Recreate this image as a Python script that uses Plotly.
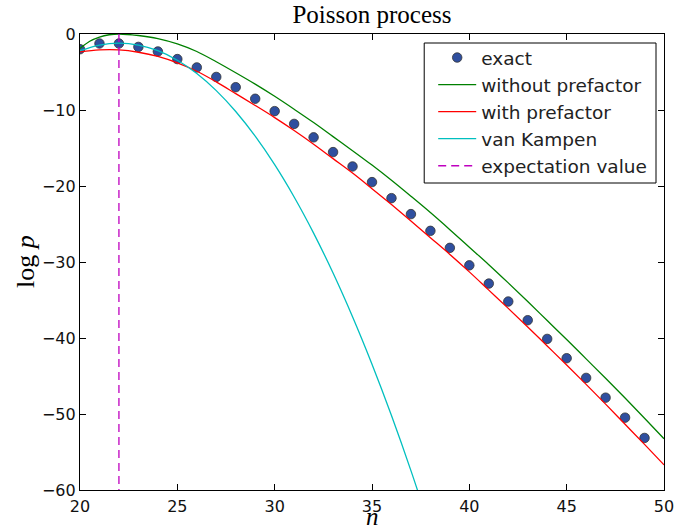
import plotly.graph_objects as go

# ---- data ----
n_exact = list(range(20, 50))
logp_exact = [-2.0, -1.25, -1.25, -1.7, -2.3, -3.3, -4.4, -5.65, -7.0, -8.52,
              -10.15, -11.83, -13.6, -15.54, -17.43, -19.49, -21.6, -23.7, -25.9, -28.14,
              -30.44, -32.84, -35.2, -37.66, -40.12, -42.66, -45.25, -47.85, -50.48, -53.15]

n_without = [20, 20.5, 21, 21.5, 22] + list(range(23, 51))
logp_without = [-1.9, -0.95, -0.4, -0.1, 0.0,
                -0.2, -0.6, -1.3, -2.3, -3.65, -5.1, -6.6, -8.2, -9.9, -11.65,
                -13.5, -15.35, -17.25, -19.25, -21.35, -23.5, -25.75, -28.05, -30.35, -32.75,
                -35.2, -37.7, -40.2, -42.75, -45.3, -47.9, -50.55, -53.25]

n_with = list(range(20, 51))
logp_with = [-2.35, -2.1, -2.1, -2.4, -2.95, -3.8, -4.9, -6.3, -7.85, -9.4,
             -11.0, -12.7, -14.5, -16.4, -18.3, -20.35, -22.45, -24.6, -26.8, -29.0,
             -31.3, -33.7, -36.1, -38.55, -41.05, -43.55, -46.1, -48.7, -51.35, -54.0, -56.7]

n_vk = list(range(20, 39))
logp_vk = [-2.2, -1.45, -1.2, -1.45, -2.2, -3.45, -5.2, -7.45, -10.2, -13.45,
           -17.2, -21.45, -26.2, -31.45, -37.2, -43.45, -50.2, -57.45, -65.2]

expectation_n = [22, 22]
expectation_y = [0, -60]

x_ticks = [20, 25, 30, 35, 40, 45, 50]
y_ticks = [0, -10, -20, -30, -40, -50, -60]

SANS = "DejaVu Sans"
SERIF = "Liberation Serif"

fig = go.Figure()

fig.add_trace(go.Scatter(
    x=n_exact, y=logp_exact, mode="markers", name="exact",
    legendgroup="a",
    marker=dict(size=9.5, color="#2f4f9f", line=dict(color="#333333", width=0.8)),
))
fig.add_trace(go.Scatter(
    x=n_without, y=logp_without, mode="lines", name="without prefactor",
    legendgroup="b",
    line=dict(color="#008000", width=1.3, shape="spline"),
))
fig.add_trace(go.Scatter(
    x=n_with, y=logp_with, mode="lines", name="with prefactor",
    legendgroup="c",
    line=dict(color="#ff0000", width=1.3, shape="spline"),
))
fig.add_trace(go.Scatter(
    x=n_vk, y=logp_vk, mode="lines", name="van Kampen",
    legendgroup="d",
    line=dict(color="#00bfbf", width=1.3, shape="spline"),
))
fig.add_trace(go.Scatter(
    x=expectation_n, y=expectation_y, mode="lines", name="expectation value",
    legendgroup="e",
    line=dict(color="#bf00bf", width=1.3, dash="8px,5px"),
))

axis_common = dict(
    showline=True, linecolor="black", linewidth=1.2, mirror="ticks",
    ticks="inside", ticklen=6, tickwidth=1, tickcolor="black",
    showgrid=False, zeroline=False, automargin=False,
    tickfont=dict(family=SANS, size=16, color="#111111"),
)

# legend frame (paper coordinates)
PLOT_L, PLOT_W, PLOT_B, PLOT_H = 79.5, 584.5, 490, 456
frame = dict(type="rect", xref="paper", yref="paper", layer="above",
             x0=(424 - PLOT_L) / PLOT_W, x1=(656 - PLOT_L) / PLOT_W,
             y0=(PLOT_B - 183) / PLOT_H, y1=(PLOT_B - 43) / PLOT_H,
             fillcolor="white", line=dict(color="black", width=1))

fig.update_layout(
    width=678, height=530,
    margin=dict(l=80, r=14, t=34, b=40),
    paper_bgcolor="white", plot_bgcolor="white",
    title=dict(text="Poisson process", x=0.5, xref="paper", xanchor="center",
               y=1, yref="container", yanchor="top", pad=dict(t=5),
               font=dict(family=SERIF, size=25, color="black")),
    xaxis=dict(range=[20, 50], tickvals=x_ticks, ticklabelstandoff=2, **axis_common),
    yaxis=dict(range=[-60, 0], tickvals=y_ticks, **axis_common),
    legend=dict(x=(433 - PLOT_L) / PLOT_W, xanchor="left",
                y=(PLOT_B - 39) / PLOT_H, yanchor="top",
                bgcolor="rgba(0,0,0,0)", borderwidth=0,
                font=dict(family=SANS, size=18.5, color="#222222"),
                traceorder="grouped", tracegroupgap=0, itemwidth=38),
    showlegend=True,
    shapes=[frame],
    annotations=[
        dict(text="<i>n</i>", xref="paper", yref="paper", x=0.5, y=-40 / 456,
             xanchor="center", yanchor="bottom", yshift=-2, showarrow=False,
             font=dict(family=SERIF, size=25, color="black")),
        dict(text="log <i>p</i>", xref="paper", yref="paper", x=(25 - 80) / 584, y=0.5,
             xanchor="center", yanchor="middle", textangle=-90, showarrow=False,
             font=dict(family=SERIF, size=26, color="black")),
    ],
)

fig.write_html("out.html")
